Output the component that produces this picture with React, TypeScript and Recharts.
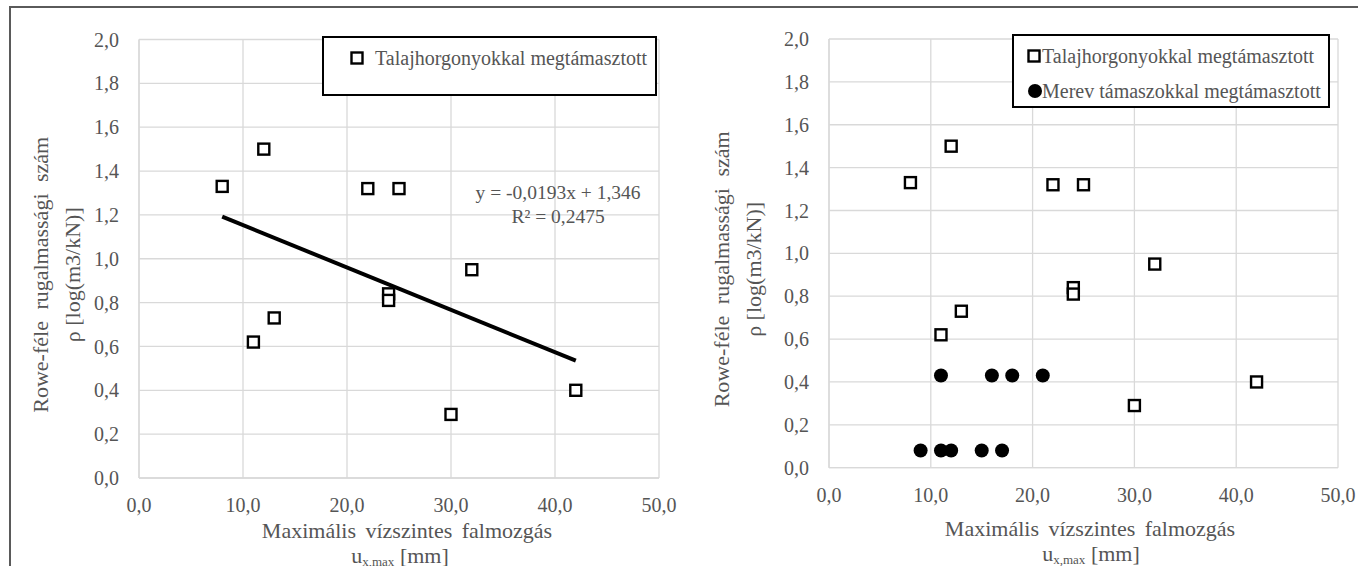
import {
  ScatterChart,
  Scatter,
  XAxis,
  YAxis,
  CartesianGrid,
  Legend,
  Label,
  ReferenceDot,
} from "recharts";

const FONT = "'Liberation Serif', Tinos, 'Times New Roman', 'DejaVu Serif', serif";
const TEXT = "#555555";
const GRID = "#d9d9d9";

const X_TICKS = [0, 10, 20, 30, 40, 50];
const Y_TICKS = [0, 0.2, 0.4, 0.6, 0.8, 1.0, 1.2, 1.4, 1.6, 1.8, 2.0];

const ANCHORED_NAME = "Talajhorgonyokkal megtámasztott";
const RIGID_NAME = "Merev támaszokkal megtámasztott";

// anchored walls (squares)
const ANCHORED_X = [8, 12, 22, 25, 24, 24, 32, 13, 11, 30, 42];
const ANCHORED_Y = [1.33, 1.5, 1.32, 1.32, 0.84, 0.81, 0.95, 0.73, 0.62, 0.29, 0.4];

// rigid struts (filled dots)
const RIGID_X = [11, 16, 18, 21, 9, 11, 12, 15, 17];
const RIGID_Y = [0.43, 0.43, 0.43, 0.43, 0.08, 0.08, 0.08, 0.08, 0.08];

// linear trend ends, left chart
const TREND_X = [8, 42];
const TREND_Y = [1.192, 0.535];

const EQUATION = "y = -0,0193x + 1,346";
const R_SQUARED = "R² = 0,2475";

const anchored = ANCHORED_X.map((x, i) => ({ x, y: ANCHORED_Y[i] }));
const rigid = RIGID_X.map((x, i) => ({ x, y: RIGID_Y[i] }));
const trend = TREND_X.map((x, i) => ({ x, y: TREND_Y[i] }));

const fmt = (v: number) => v.toFixed(1).replace(".", ",");

const Square = (p: any) => (
  <rect x={p.cx - 5.5} y={p.cy - 5.5} width={11} height={11} fill="#fff" stroke="#000" strokeWidth={2.4} />
);
const Dot = (p: any) => <circle cx={p.cx} cy={p.cy} r={7} fill="#000" />;

const tickStyle = { fontSize: 20, fill: TEXT, fontFamily: FONT };

const xTitle = (dx1: number, dx2: number, dy1: number, dy2: number) => ({ viewBox }: any) => {
  const cx = viewBox.x + viewBox.width / 2;
  return (
    <g fontFamily={FONT} fill={TEXT} fontSize={22}>
      <text x={cx + dx1} y={viewBox.y + dy1} textAnchor="middle" wordSpacing={4}>
        Maximális vízszintes falmozgás
      </text>
      <text x={cx + dx2} y={viewBox.y + dy2} textAnchor="middle">
        <tspan>u</tspan>
        <tspan fontSize={13} dy={3}>x,max</tspan>
        <tspan dy={-3}> [mm]</tspan>
      </text>
    </g>
  );
};

const yTitle = (b1: number, b2: number, dy: number) => ({ viewBox }: any) => {
  const cy = viewBox.y + viewBox.height / 2 + dy;
  const x1 = viewBox.x + b1;
  const x2 = viewBox.x + b2;
  return (
    <g fontFamily={FONT} fill={TEXT} fontSize={22}>
      <text x={x1} y={cy} transform={`rotate(-90 ${x1} ${cy})`} textAnchor="middle" wordSpacing={6}>
        Rowe-féle rugalmassági szám
      </text>
      <text x={x2} y={cy} transform={`rotate(-90 ${x2} ${cy})`} textAnchor="middle">
        ρ [log(m3/kN)]
      </text>
    </g>
  );
};

const EquationLabel = ({ viewBox }: any) => (
  <g fontFamily={FONT} fill={TEXT} fontSize={19.5} textAnchor="middle">
    <text x={viewBox.x} y={viewBox.y}>{EQUATION}</text>
    <text x={viewBox.x} y={viewBox.y + 24}>{R_SQUARED}</text>
  </g>
);

type Row = { name: string; mx: number; my: number; tx: number };

// rows keep the reference order; the payload only tells which series exist
const makeLegend = (rows: Row[]) => ({ payload }: any) => {
  const names = new Set((payload || []).map((p: any) => p.value));
  return (
    <div style={{ position: "relative", width: "100%", height: "100%", fontFamily: FONT }}>
      {rows
        .filter((r) => names.has(r.name))
        .map((r) => (
          <div key={r.name}>
            <svg width={16} height={16} style={{ position: "absolute", left: r.mx - 8, top: r.my - 8 }}>
              {r.name === ANCHORED_NAME ? (
                <rect x={2.5} y={2.5} width={11} height={11} fill="#fff" stroke="#000" strokeWidth={2.4} />
              ) : (
                <circle cx={8} cy={8} r={7} fill="#000" />
              )}
            </svg>
            <span
              style={{
                position: "absolute",
                left: r.tx,
                top: r.my - 13,
                fontSize: 20,
                lineHeight: "26px",
                color: TEXT,
                whiteSpace: "nowrap",
              }}
            >
              {r.name}
            </span>
          </div>
        ))}
    </div>
  );
};

const legendBox = { border: "2px solid #000", boxSizing: "border-box" as const, background: "#fff" };

const App = () => {
  return (
    <div
      style={{
        position: "absolute",
        left: 0,
        top: 0,
        width: 1358,
        height: 566,
        overflow: "hidden",
        background: "#fff",
        fontFamily: FONT,
      }}
    >
      <div
        style={{
          position: "absolute",
          left: 9,
          top: 6,
          width: 1400,
          height: 600,
          border: "2px solid #5a5a5a",
        }}
      />

      {/* left: anchored walls with trend */}
      <div style={{ position: "absolute", left: 0, top: 0 }}>
        <ScatterChart width={700} height={566} margin={{ top: 39.5, right: 41, bottom: 0, left: 0 }}>
          <CartesianGrid stroke={GRID} strokeWidth={1.3} />
          <XAxis
            type="number"
            dataKey="x"
            domain={[0, 50]}
            ticks={X_TICKS}
            tickFormatter={fmt}
            tick={tickStyle}
            tickLine={false}
            tickSize={0}
            tickMargin={20}
            axisLine={{ stroke: GRID, strokeWidth: 1.3 }}
            height={88}
          >
            <Label content={xTitle(8, 1, 60, 85)} />
          </XAxis>
          <YAxis
            type="number"
            dataKey="y"
            domain={[0, 2]}
            ticks={Y_TICKS}
            tickFormatter={fmt}
            tick={tickStyle}
            tickLine={false}
            tickSize={0}
            tickMargin={20}
            axisLine={{ stroke: GRID, strokeWidth: 1.3 }}
            width={139}
          >
            <Label content={yTitle(48, 80, 16)} />
          </YAxis>
          <Legend
            layout="horizontal"
            verticalAlign="middle"
            align="center"
            wrapperStyle={{ left: 322, top: 36, width: 335, height: 60, ...legendBox }}
            content={makeLegend([{ name: ANCHORED_NAME, mx: 33, my: 20, tx: 51 }])}
          />
          <Scatter
            name="trend"
            data={trend}
            legendType="none"
            line={{ stroke: "#000", strokeWidth: 4 }}
            shape={() => <g />}
            isAnimationActive={false}
          />
          <Scatter name={ANCHORED_NAME} data={anchored} shape={Square} isAnimationActive={false} />
          <ReferenceDot x={40.3} y={1.273} r={0} stroke="none" fill="none" label={EquationLabel} />
        </ScatterChart>
      </div>

      {/* right: anchored vs rigid */}
      <div style={{ position: "absolute", left: 680, top: 0 }}>
        <ScatterChart width={678} height={566} margin={{ top: 39, right: 20, bottom: 0, left: 0 }}>
          <CartesianGrid stroke={GRID} strokeWidth={1.3} />
          <XAxis
            type="number"
            dataKey="x"
            domain={[0, 50]}
            ticks={X_TICKS}
            tickFormatter={fmt}
            tick={tickStyle}
            tickLine={false}
            tickSize={0}
            tickMargin={20}
            axisLine={{ stroke: GRID, strokeWidth: 1.3 }}
            height={98.3}
          >
            <Label content={xTitle(6.5, 7.5, 68, 93)} />
          </XAxis>
          <YAxis
            type="number"
            dataKey="y"
            domain={[0, 2]}
            ticks={Y_TICKS}
            tickFormatter={fmt}
            tick={tickStyle}
            tickLine={false}
            tickSize={0}
            tickMargin={20}
            axisLine={{ stroke: GRID, strokeWidth: 1.3 }}
            width={149}
          >
            <Label content={yTitle(49, 81, 16)} />
          </YAxis>
          <Legend
            layout="horizontal"
            verticalAlign="middle"
            align="center"
            wrapperStyle={{ left: 332, top: 34, width: 318, height: 74, ...legendBox }}
            content={makeLegend([
              { name: ANCHORED_NAME, mx: 20, my: 20, tx: 28 },
              { name: RIGID_NAME, mx: 21, my: 55, tx: 28 },
            ])}
          />
          <Scatter name={ANCHORED_NAME} data={anchored} shape={Square} isAnimationActive={false} />
          <Scatter name={RIGID_NAME} data={rigid} shape={Dot} isAnimationActive={false} />
        </ScatterChart>
      </div>
    </div>
  );
};

export default App;
